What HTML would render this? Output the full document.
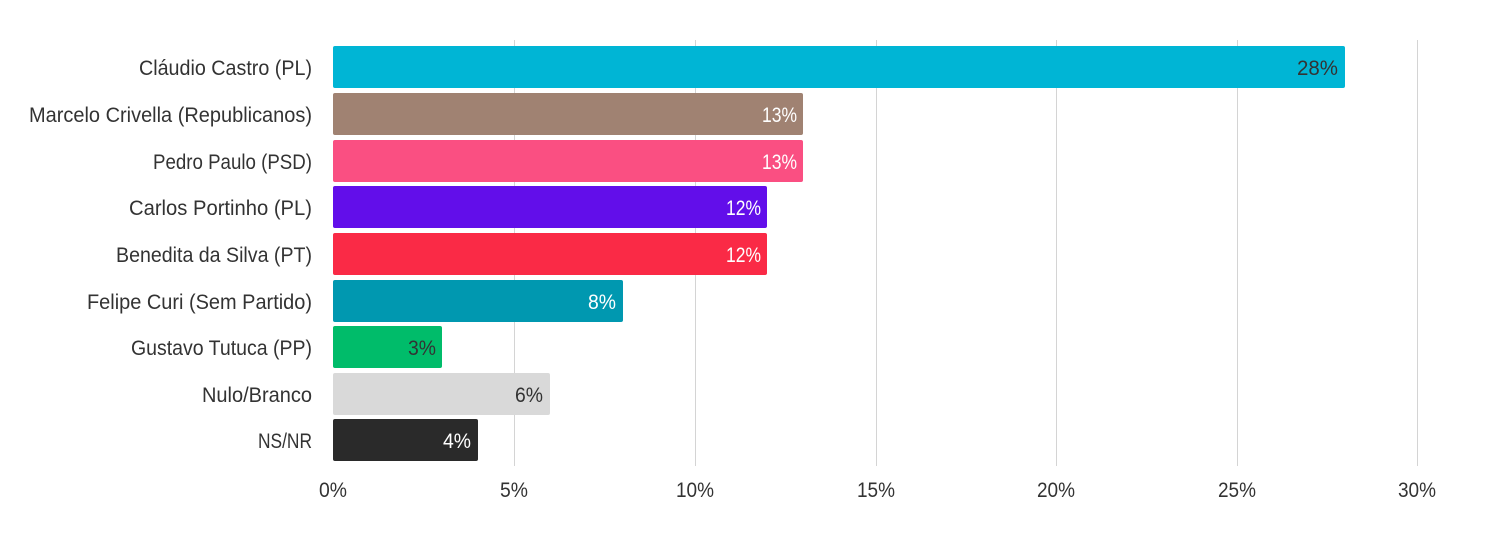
<!DOCTYPE html>
<html><head><meta charset="utf-8"><style>html,body{margin:0;padding:0;background:#fff}</style></head>
<body>
<svg width="1491" height="529" xmlns="http://www.w3.org/2000/svg" font-family="Liberation Sans, sans-serif" font-size="21">
<g stroke="#d4d4d4" stroke-width="1">
<line x1="514.5" y1="40" x2="514.5" y2="466"/>
<line x1="695.5" y1="40" x2="695.5" y2="466"/>
<line x1="876.5" y1="40" x2="876.5" y2="466"/>
<line x1="1056.5" y1="40" x2="1056.5" y2="466"/>
<line x1="1237.5" y1="40" x2="1237.5" y2="466"/>
<line x1="1417.5" y1="40" x2="1417.5" y2="466"/>
</g>
<g>
<rect x="333" y="46" width="1012" height="42" rx="2" fill="#00B5D5"/>
<rect x="333" y="93" width="470" height="42" rx="2" fill="#A08272"/>
<rect x="333" y="140" width="470" height="42" rx="2" fill="#FA4F82"/>
<rect x="333" y="186" width="434" height="42" rx="2" fill="#620EEA"/>
<rect x="333" y="233" width="434" height="42" rx="2" fill="#FA2A46"/>
<rect x="333" y="280" width="290" height="42" rx="2" fill="#0098B0"/>
<rect x="333" y="326" width="109" height="42" rx="2" fill="#00BC6A"/>
<rect x="333" y="373" width="217" height="42" rx="2" fill="#D9D9D9"/>
<rect x="333" y="419" width="145" height="42" rx="2" fill="#2A2A2A"/>
</g>
<g fill="#333" text-anchor="end">
<text x="312" y="75" textLength="173" lengthAdjust="spacingAndGlyphs">Cláudio Castro (PL)</text>
<text x="312" y="122" textLength="283" lengthAdjust="spacingAndGlyphs">Marcelo Crivella (Republicanos)</text>
<text x="312" y="169" textLength="159" lengthAdjust="spacingAndGlyphs">Pedro Paulo (PSD)</text>
<text x="312" y="215" textLength="183" lengthAdjust="spacingAndGlyphs">Carlos Portinho (PL)</text>
<text x="312" y="262" textLength="196" lengthAdjust="spacingAndGlyphs">Benedita da Silva (PT)</text>
<text x="312" y="309" textLength="225" lengthAdjust="spacingAndGlyphs">Felipe Curi (Sem Partido)</text>
<text x="312" y="355" textLength="181" lengthAdjust="spacingAndGlyphs">Gustavo Tutuca (PP)</text>
<text x="312" y="402" textLength="110" lengthAdjust="spacingAndGlyphs">Nulo/Branco</text>
<text x="312" y="448" textLength="54" lengthAdjust="spacingAndGlyphs">NS/NR</text>
</g>
<g text-anchor="end">
<text x="1338" y="75" fill="#333" textLength="41" lengthAdjust="spacingAndGlyphs">28%</text>
<text x="797" y="122" fill="#fff" textLength="35" lengthAdjust="spacingAndGlyphs">13%</text>
<text x="797" y="169" fill="#fff" textLength="35" lengthAdjust="spacingAndGlyphs">13%</text>
<text x="761" y="215" fill="#fff" textLength="35" lengthAdjust="spacingAndGlyphs">12%</text>
<text x="761" y="262" fill="#fff" textLength="35" lengthAdjust="spacingAndGlyphs">12%</text>
<text x="616" y="309" fill="#fff" textLength="28" lengthAdjust="spacingAndGlyphs">8%</text>
<text x="436" y="355" fill="#333" textLength="28" lengthAdjust="spacingAndGlyphs">3%</text>
<text x="543" y="402" fill="#333" textLength="28" lengthAdjust="spacingAndGlyphs">6%</text>
<text x="471" y="448" fill="#fff" textLength="28" lengthAdjust="spacingAndGlyphs">4%</text>
</g>
<g fill="#333" text-anchor="middle">
<text x="333" y="497" textLength="28" lengthAdjust="spacingAndGlyphs">0%</text>
<text x="514" y="497" textLength="28" lengthAdjust="spacingAndGlyphs">5%</text>
<text x="695" y="497" textLength="38" lengthAdjust="spacingAndGlyphs">10%</text>
<text x="876" y="497" textLength="38" lengthAdjust="spacingAndGlyphs">15%</text>
<text x="1056" y="497" textLength="38" lengthAdjust="spacingAndGlyphs">20%</text>
<text x="1237" y="497" textLength="38" lengthAdjust="spacingAndGlyphs">25%</text>
<text x="1417" y="497" textLength="38" lengthAdjust="spacingAndGlyphs">30%</text>
</g>
</svg>
</body></html>
